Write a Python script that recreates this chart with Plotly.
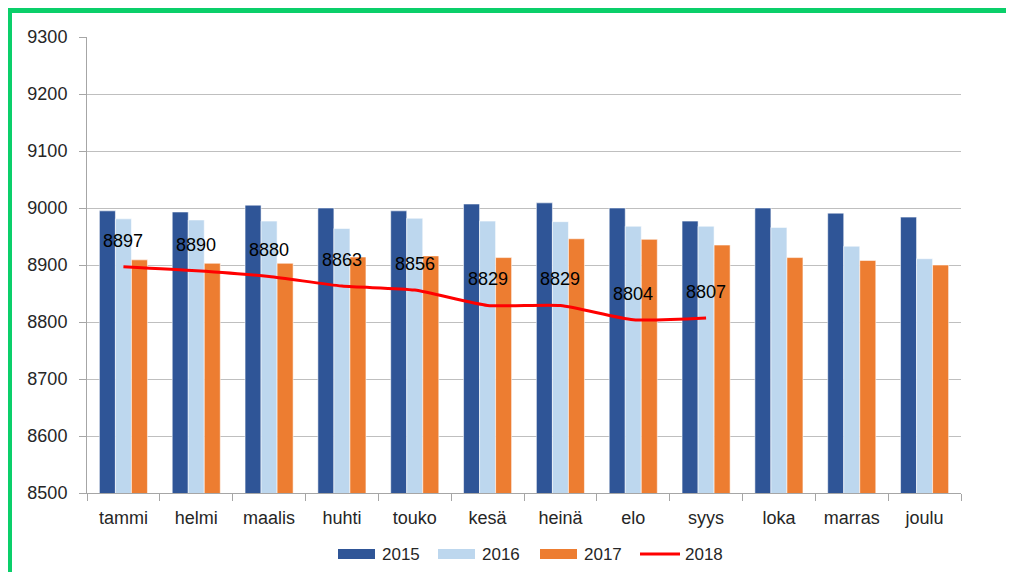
import plotly.graph_objects as go

months = ["tammi", "helmi", "maalis", "huhti", "touko", "kesä", "heinä",
          "elo", "syys", "loka", "marras", "joulu"]
v2015 = [8995, 8993, 9005, 9000, 8995, 9007, 9009, 9000, 8977, 9000, 8991, 8984]
v2016 = [8981, 8979, 8977, 8964, 8982, 8977, 8976, 8968, 8968, 8966, 8933, 8911]
v2017 = [8909, 8903, 8903, 8914, 8916, 8913, 8946, 8945, 8935, 8913, 8908, 8900]
v2018 = [8897, 8890, 8880, 8863, 8856, 8829, 8829, 8804, 8807]

series_names = ["2015", "2016", "2017", "2018"]
colors = ["#2F5597", "#BDD7EE", "#ED7D31", "#FF0000"]
yticks = [8500, 8600, 8700, 8800, 8900, 9000, 9100, 9200, 9300]

FONT = "Liberation Sans, Arial, sans-serif"
TXT = "#262626"

# The page body has an 8px margin, so work in screen pixels and subtract it.
OFF = 8
W, H = 1014 - OFF, 572 - OFF
L, R, T, B = 87 - OFF, 961 - OFF, 37 - OFF, 493 - OFF

def px(x):
    return (x - OFF - L) / (R - L)
def py(y):
    return (B - (y - OFF)) / (B - T)

fig = go.Figure()
for name, vals, col in zip(series_names[:3], [v2015, v2016, v2017], colors[:3]):
    fig.add_trace(go.Bar(x=months, y=vals, name=name,
                         marker=dict(color=col, line=dict(color="rgba(255,255,255,0.7)", width=0.8)),
                         showlegend=False))
fig.add_trace(go.Scatter(x=months[:len(v2018)], y=v2018, name="2018", mode="lines",
                         line=dict(color=colors[3], width=3, shape="spline", smoothing=0.6),
                         showlegend=False))

for m, v in zip(months, v2018):
    fig.add_annotation(x=m, y=v, text=str(v), showarrow=False, yshift=26,
                       font=dict(size=18, color="#000000", family=FONT))

# Custom legend (screen pixel positions)
leg_x = [338, 438, 540, 640]
leg_y = 554
for i, (name, col) in enumerate(zip(series_names, colors)):
    x0 = leg_x[i]
    if i < 3:
        fig.add_shape(type="rect", xref="paper", yref="paper",
                      x0=px(x0), x1=px(x0 + 37), y0=py(leg_y + 5), y1=py(leg_y - 5),
                      fillcolor=col, line=dict(width=0))
    else:
        fig.add_shape(type="line", xref="paper", yref="paper",
                      x0=px(x0), x1=px(x0 + 40), y0=py(leg_y), y1=py(leg_y),
                      line=dict(color=col, width=3))
    fig.add_annotation(xref="paper", yref="paper", x=px(x0 + (43 if i == 3 else 42)), y=py(leg_y),
                       text=name, showarrow=False, xanchor="left", yanchor="middle",
                       font=dict(size=17, color=TXT, family=FONT))

# Green frame
green = "#0ACF6A"
fig.add_shape(type="rect", xref="paper", yref="paper",
              x0=px(7), x1=px(12), y0=py(590), y1=py(8),
              fillcolor=green, line=dict(width=0), layer="above")
fig.add_shape(type="rect", xref="paper", yref="paper",
              x0=px(7), x1=px(1030), y0=py(13), y1=py(8),
              fillcolor=green, line=dict(width=0), layer="above")

fig.update_layout(
    width=W, height=H,
    margin=dict(l=L, r=W - R, t=T, b=H - B),
    paper_bgcolor="white", plot_bgcolor="white",
    barmode="group", bargap=0.34, bargroupgap=0,
    font=dict(family=FONT, size=18, color=TXT),
    showlegend=False,
)
fig.update_xaxes(showline=True, linecolor="#A6A6A6", linewidth=1,
                 ticks="outside", tickson="boundaries", ticklen=7, tickcolor="#A6A6A6",
                 ticklabelstandoff=8,
                 tickfont=dict(size=18, color=TXT, family=FONT), showgrid=False)
fig.update_yaxes(range=[8500, 9300], tickvals=yticks, showline=True, linecolor="#A6A6A6",
                 linewidth=1, ticks="outside", ticklen=7, tickcolor="#A6A6A6",
                 gridcolor="#BFBFBF", gridwidth=1.3, zeroline=False,
                 ticklabelstandoff=8,
                 tickfont=dict(size=18, color=TXT, family=FONT))

fig.write_html("out.html")
